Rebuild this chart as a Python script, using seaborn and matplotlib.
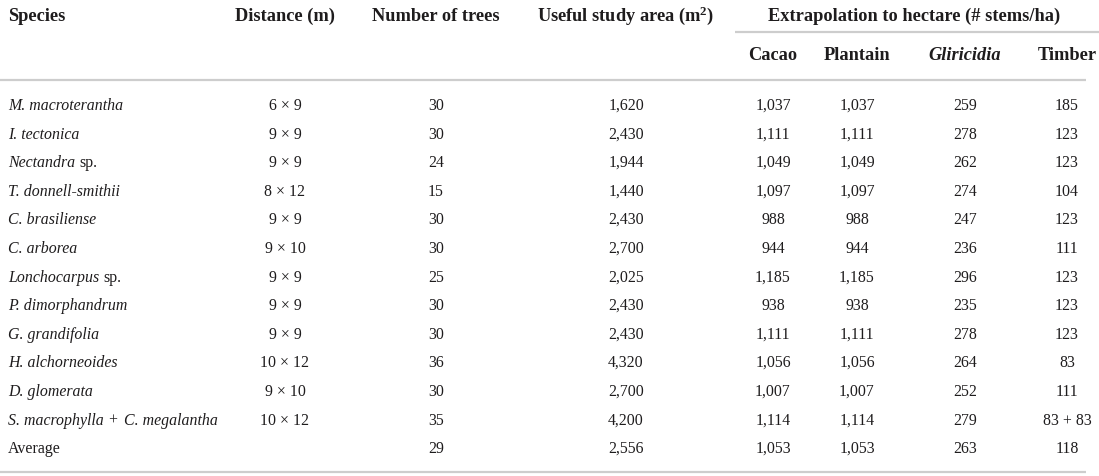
import matplotlib
matplotlib.use("Agg")
import matplotlib.pyplot as plt
import seaborn as sns

# ---------------- data ----------------
species = ["M. macroterantha", "I. tectonica", "Nectandra sp.", "T. donnell-smithii",
           "C. brasiliense", "C. arborea", "Lonchocarpus sp.", "P. dimorphandrum",
           "G. grandifolia", "H. alchorneoides", "D. glomerata",
           "S. macrophylla + C. megalantha", "Average"]
distance = ["6 × 9", "9 × 9", "9 × 9", "8 × 12", "9 × 9", "9 × 10", "9 × 9", "9 × 9",
            "9 × 9", "10 × 12", "9 × 10", "10 × 12", ""]
trees = [30, 30, 24, 15, 30, 30, 25, 30, 30, 36, 30, 35, 29]
area = [1620, 2430, 1944, 1440, 2430, 2700, 2025, 2430, 2430, 4320, 2700, 4200, 2556]
cacao = [1037, 1111, 1049, 1097, 988, 944, 1185, 938, 1111, 1056, 1007, 1114, 1053]
plantain = [1037, 1111, 1049, 1097, 988, 944, 1185, 938, 1111, 1056, 1007, 1114, 1053]
gliricidia = [259, 278, 262, 274, 247, 236, 296, 235, 278, 264, 252, 279, 263]
timber = ["185", "123", "123", "104", "123", "111", "123", "123", "123", "83", "111",
          "83 + 83", "118"]

headers = ["Species", "Distance (m)", "Number of trees", r"Useful study area ($\mathbf{m}^{\mathbf{2}}$)"]
group_header = "Extrapolation to hectare (# stems/ha)"
sub_headers = ["Cacao", "Plantain", "Gliricidia", "Timber"]

# ---------------- style ----------------
sns.set_theme(style="white")
plt.rcParams["font.family"] = ["Liberation Serif", "DejaVu Serif"]
plt.rcParams["mathtext.fontset"] = "custom"
plt.rcParams["mathtext.rm"] = "Liberation Serif"
plt.rcParams["mathtext.it"] = "Liberation Serif:italic"
plt.rcParams["mathtext.bf"] = "Liberation Serif:bold"

TXT = "#1e1c1d"
LINE = "#cdcdcd"
HFS = 13.2
DFS = 11.4


def species_segments(name):
    """Split a species label into (text, italic?, gap before, gap after) pieces."""
    if name == "Average":
        return [(name, False, 0, 0)]
    if name.endswith(" sp."):
        return [(name[:-4], True, 0, 0), ("sp.", False, 1.0, 0)]
    if " + " in name:
        a, b = name.split(" + ")
        return [(a, True, 0, 0), ("+", False, 1.0, 1.7), (b, True, 0, 0)]
    return [(name, True, 0, 0)]


fig = plt.figure(figsize=(10.99, 4.77), dpi=100)
ax = fig.add_axes([0, 0, 1, 1])
ax.set_xlim(0, 1099)
ax.set_ylim(477, 0)
ax.axis("off")
renderer = fig.canvas.get_renderer()


def text_width(s, **kw):
    t = ax.text(0, 0, s, fontsize=DFS, **kw)
    w = t.get_window_extent(renderer).width
    t.remove()
    return w


space_w = text_width("a a") - text_width("aa")

# column centres (pixel coordinates of the reference)
col_x = [8, 285, 436, 626, 773, 857, 965, 1067]
row_y0, row_dy = 110, 28.6
head_y, sub_y = 21, 60

# headers
ax.text(col_x[0], head_y, headers[0], ha="left", va="baseline", fontsize=HFS,
        fontweight="bold", color=TXT)
for x, h in zip(col_x[1:4], headers[1:]):
    ax.text(x, head_y, h, ha="center", va="baseline", fontsize=HFS,
            fontweight="bold", color=TXT)
ax.text(914, head_y, group_header, ha="center", va="baseline", fontsize=HFS,
        fontweight="bold", color=TXT)
for x, h in zip(col_x[4:], sub_headers):
    ax.text(x, sub_y, h, ha="center", va="baseline", fontsize=HFS, fontweight="bold",
            fontstyle="italic" if h == "Gliricidia" else "normal", color=TXT)

# rules
ax.plot([735, 1099], [33, 33], color=LINE, lw=1.6, solid_capstyle="butt")
ax.plot([0, 1086], [81, 81], color=LINE, lw=1.6, solid_capstyle="butt")
ax.plot([0, 1086], [473, 473], color=LINE, lw=1.6, solid_capstyle="butt")

# body
for i, sp in enumerate(species):
    y = round(row_y0 + i * row_dy)
    x = col_x[0]
    for seg, it, gb, ga in species_segments(sp):
        x += gb * space_w
        t = ax.text(x, y, seg, ha="left", va="baseline", fontsize=DFS,
                    fontstyle="italic" if it else "normal", color=TXT)
        x += t.get_window_extent(renderer).width + ga * space_w
    cells = [distance[i], f"{trees[i]}", f"{area[i]:,}", f"{cacao[i]:,}",
             f"{plantain[i]:,}", f"{gliricidia[i]}", timber[i]]
    for cx, c in zip(col_x[1:], cells):
        ax.text(cx, y, c, ha="center", va="baseline", fontsize=DFS, color=TXT)

fig.savefig("out.png", dpi=100, facecolor="white")
